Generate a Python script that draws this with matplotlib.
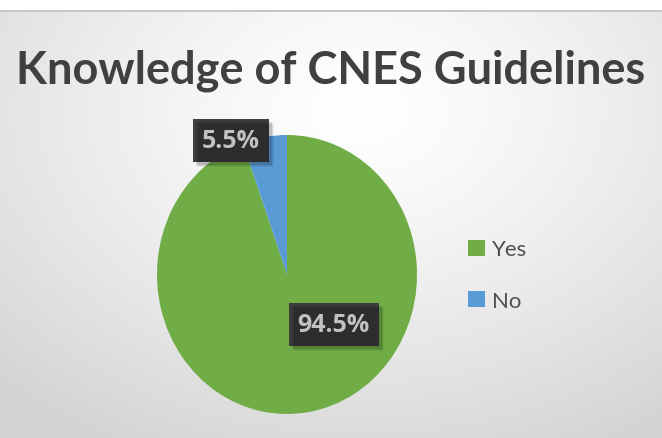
import numpy as np
import matplotlib.pyplot as plt
from matplotlib.patches import Rectangle

categories = ['Yes', 'No']
shares = [94.5, 5.5]
colors = ['#70AD47', '#5B9BD5']
title = 'Knowledge of CNES Guidelines'

# label spots in pie coords (Excel "best fit" look)
label_pos = [(0.36, -0.36), (-0.43, 0.96)]

W, H = 662, 439
fig = plt.figure(figsize=(W / 100, H / 100), dpi=100)

# radial grey background, white strip on top
bg = fig.add_axes([0, 0, 1, 1])
yy, xx = np.mgrid[0:H, 0:W]
r = np.sqrt(((xx - 360) / 520.0) ** 2 + ((yy - 110) / 380.0) ** 2)
shade = 1.0 - 0.17 * np.clip(r, 0, 1) ** 1.3
img = np.dstack([shade] * 3)
img[:11] = 1.0
img[11:13] = 0.78
bg.imshow(img, extent=[0, W, H, 0], aspect='auto', interpolation='bilinear')
bg.set_xlim(0, W)
bg.set_ylim(H, 0)
bg.axis('off')

fig.text(0.5, 1 - 71 / H, title, ha='center', va='center', fontsize=32.5,
         fontweight='bold', color='#404040', family='Lato')

ax = fig.add_axes([157 / W, 1 - 415 / H, 260 / W, 279 / H])
ax.patch.set_alpha(0)
wedges, texts, autotexts = ax.pie(shares, colors=colors, startangle=90,
                                  counterclock=False, autopct='%.1f%%',
                                  radius=1.0, frame=False)
ax.set_aspect('auto')
ax.set_xlim(-1, 1)
ax.set_ylim(-1, 1)
ax.axis('off')

for t, pos in zip(autotexts, label_pos):
    t.set_position(pos)
    t.set_color('white')
    t.set_fontsize(18)
    t.set_fontweight('bold')
    t.set_family('Open Sans')
    t.set_ha('center')
    t.set_va('center')
    t.set_bbox(dict(boxstyle='square,pad=0.35', facecolor='#3d3d3f',
                    edgecolor='none'))
    t.set_zorder(5)

leg = fig.legend(wedges, categories, loc='center left',
                 bbox_to_anchor=(448 / W, 1 - 276 / H), frameon=False,
                 prop={'family': 'Lato', 'size': 16}, labelcolor='#505050',
                 handlelength=0.75, handleheight=0.75, handletextpad=0.35,
                 labelspacing=1.4)

# soft drop shadow behind each label box
fig.canvas.draw()
rend = fig.canvas.get_renderer()
for t in autotexts:
    bb = t.get_bbox_patch().get_window_extent(rend)
    for k, a in [(5, 0.06), (4, 0.08), (3, 0.12)]:
        fig.patches.append(Rectangle((bb.x0 + k, bb.y0 - k), bb.width, bb.height,
                                     transform=None, facecolor='black',
                                     edgecolor='none', alpha=a, zorder=3))

fig.savefig('out.png', dpi=100)
